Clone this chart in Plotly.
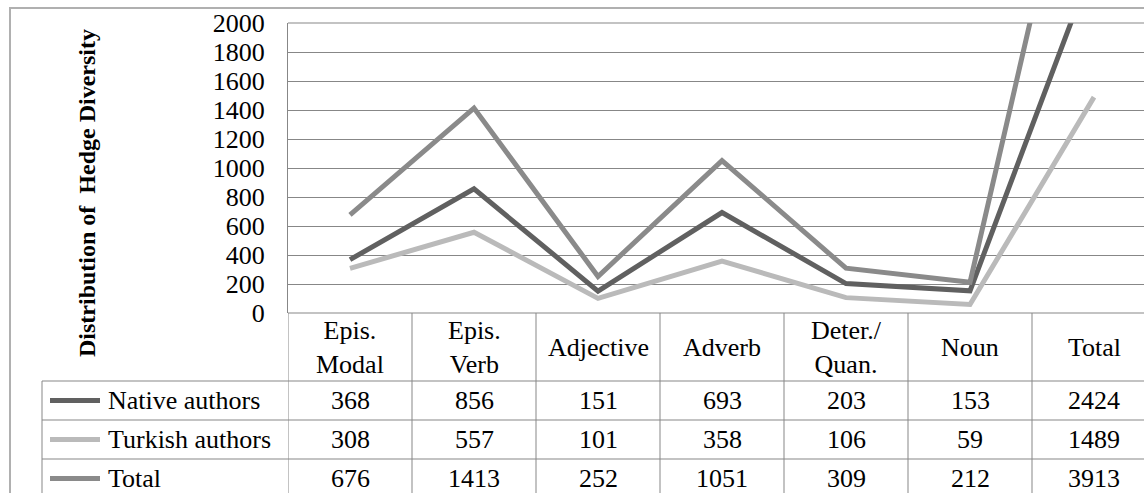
import plotly.graph_objects as go

W, H = 1144, 493

categories = ["Epis.<br>Modal", "Epis.<br>Verb", "Adjective", "Adverb", "Deter./<br>Quan.", "Noun", "Total"]
native_authors = [368, 856, 151, 693, 203, 153, 2424]
turkish_authors = [308, 557, 101, 358, 106, 59, 1489]
total_values = [676, 1413, 252, 1051, 309, 212, 3913]
series_names = ["Native authors", "Turkish authors", "Total"]
series_colors = ["#606060", "#bababa", "#8a8a8a"]
y_tickvals = [0, 200, 400, 600, 800, 1000, 1200, 1400, 1600, 1800, 2000]
y_title = "Distribution of  Hedge Diversity"

series_values = [native_authors, turkish_authors, total_values]

FONT = "Liberation Serif, Times New Roman, serif"
GRID = "#878787"


def px_x(x):
    return x / W


def px_y(y):
    return 1 - y / H


fig = go.Figure()
idx = list(range(len(categories)))
for name, vals, col in zip(series_names, series_values, series_colors):
    fig.add_trace(go.Scatter(
        x=idx, y=vals, mode="lines", name=name,
        line=dict(color=col, width=5), showlegend=False, hoverinfo="skip",
    ))

plot_left, plot_top, plot_bottom = 288, 23, 313
col_w = 124
x_right = -0.5 + (W - plot_left) / col_w

fig.update_layout(
    template="none",
    width=W, height=H, autosize=False,
    margin=dict(l=0, r=0, t=0, b=0, pad=0, autoexpand=False),
    paper_bgcolor="white", plot_bgcolor="white",
    font=dict(family=FONT, color="black", size=26),
    xaxis=dict(domain=[px_x(plot_left), 1], range=[-0.5, x_right],
               showticklabels=False, showgrid=False, zeroline=False,
               showline=False, fixedrange=True, automargin=False, ticks=""),
    yaxis=dict(domain=[px_y(plot_bottom), px_y(plot_top)], range=[0, 2000],
               tickvals=y_tickvals, ticktext=[str(v) for v in y_tickvals],
               showgrid=True, gridcolor=GRID, gridwidth=1,
               zeroline=False, showline=True, linecolor=GRID, linewidth=1,
               ticks="", ticklabelstandoff=17, automargin=False, fixedrange=True,
               tickfont=dict(family=FONT, size=26, color="black")),
)

shapes = []
# outer frame
shapes.append(dict(type="rect", xref="paper", yref="paper",
                   x0=px_x(10), x1=1.05, y0=-0.2, y1=px_y(8),
                   line=dict(color="#b0b0b0", width=2), layer="below"))
# top gridline ensure
shapes.append(dict(type="line", xref="paper", yref="paper",
                   x0=px_x(plot_left), x1=1, y0=px_y(plot_top), y1=px_y(plot_top),
                   line=dict(color=GRID, width=1)))
# table column lines (through the category axis)
for i in range(len(categories)):
    shapes.append(dict(type="line", xref="x", yref="paper",
                       x0=i - 0.5, x1=i - 0.5, y0=px_y(plot_bottom), y1=-0.1,
                       line=dict(color=GRID, width=1)))
# header top line
shapes.append(dict(type="line", xref="paper", yref="paper",
                   x0=px_x(plot_left), x1=1, y0=px_y(plot_bottom), y1=px_y(plot_bottom),
                   line=dict(color=GRID, width=1)))
row_lines = [381, 420, 459]
for ry in row_lines:
    shapes.append(dict(type="line", xref="paper", yref="paper",
                       x0=px_x(42), x1=1, y0=px_y(ry), y1=px_y(ry),
                       line=dict(color=GRID, width=1)))
# table left border
shapes.append(dict(type="line", xref="paper", yref="paper",
                   x0=px_x(42), x1=px_x(42), y0=px_y(381), y1=-0.1,
                   line=dict(color=GRID, width=1)))

row_centers = [400.5, 439.5, 478.5]
annotations = []
for rc, name, vals, col in zip(row_centers, series_names, series_values, series_colors):
    shapes.append(dict(type="line", xref="paper", yref="paper",
                       x0=px_x(50), x1=px_x(100), y0=px_y(rc), y1=px_y(rc),
                       line=dict(color=col, width=5)))
    annotations.append(dict(xref="paper", yref="paper", x=px_x(106), y=px_y(rc),
                            text=name, showarrow=False, xanchor="left", yanchor="middle",
                            font=dict(family=FONT, size=26, color="black")))
    for i, v in enumerate(vals):
        annotations.append(dict(xref="x", yref="paper", x=i, y=px_y(rc),
                                text=str(v), showarrow=False, xanchor="center", yanchor="middle",
                                font=dict(family=FONT, size=26, color="black")))

for i, c in enumerate(categories):
    annotations.append(dict(xref="x", yref="paper", x=i, y=px_y(347),
                            text=c, showarrow=False, xanchor="center", yanchor="middle",
                            font=dict(family=FONT, size=26, color="black")))

annotations.append(dict(xref="paper", yref="paper", x=px_x(87), y=px_y(193),
                        text="<b>" + y_title + "</b>", textangle=-90, showarrow=False,
                        xanchor="center", yanchor="middle",
                        font=dict(family=FONT, size=24, color="black")))

fig.update_layout(shapes=shapes, annotations=annotations)
fig.write_html(
    "out.html",
    config={"displayModeBar": False, "staticPlot": True},
    post_script=(
        "document.documentElement.style.margin='0';"
        "document.documentElement.style.overflow='hidden';"
        "document.body.style.margin='0';"
        "document.body.style.padding='0';"
        "document.body.style.overflow='hidden';"
    ),
)
